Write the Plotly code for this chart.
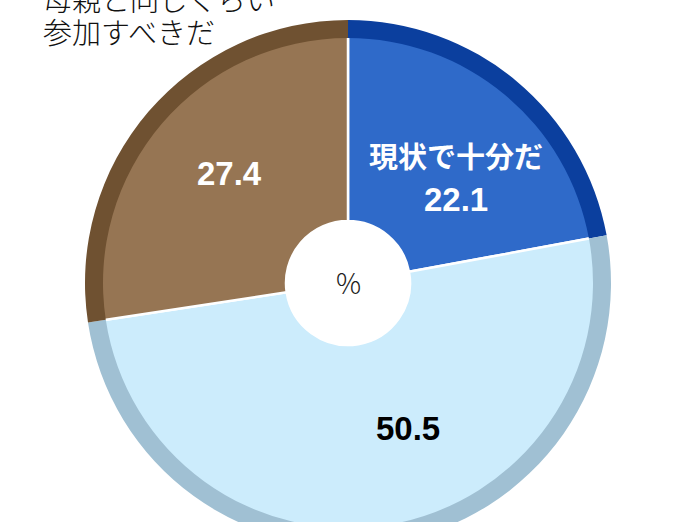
import plotly.graph_objects as go

# ---- data ----
categories = ["現状で十分だ", "父親も母親と同じくらい参加すべきだ", "その他・答えない"]
values = [22.1, 50.5, 27.4]
inner_colors = ["#2F6AC9", "#CCECFC", "#967553"]
ring_colors = ["#0B3F9E", "#A0C0D3", "#6F5131"]
title_lines = ["母親と同じくらい", "参加すべきだ"]
unit_label = "%"

W, H = 696, 566  # page taller than the 522 window so the pie runs off the bottom like the reference
CX, CY = 348, 283
R_OUT, R_IN, R_HOLE = 263, 245, 62

def px_to_paper(x, y):
    return x / W, 1 - y / H

dom_x = [(CX - R_OUT) / W, (CX + R_OUT) / W]
dom_y = [1 - (CY + R_OUT) / H, 1 - (CY - R_OUT) / H]

fig = go.Figure()
# inner (light) slices with white separators
fig.add_trace(go.Pie(
    labels=categories, values=values, sort=False, direction="clockwise", rotation=0,
    hole=R_HOLE / R_OUT, marker=dict(colors=inner_colors, line=dict(color="white", width=2.5)),
    textinfo="none", hoverinfo="skip", showlegend=False,
    domain=dict(x=dom_x, y=dom_y),
))
# outer dark ring
fig.add_trace(go.Pie(
    labels=categories, values=values, sort=False, direction="clockwise", rotation=0,
    hole=R_IN / R_OUT, marker=dict(colors=ring_colors, line=dict(color="white", width=0)),
    textinfo="none", hoverinfo="skip", showlegend=False,
    domain=dict(x=dom_x, y=dom_y),
))

anns = []
def add_text(text, x, y, size, color, bold=False, family="Liberation Sans, Arial, sans-serif",
             xanchor="center", weight=None):
    px, py = px_to_paper(x, y)
    font = dict(size=size, color=color, family=family)
    if weight is not None:
        font["weight"] = weight
    anns.append(dict(text=f"<b>{text}</b>" if bold else text, x=px, y=py, xref="paper", yref="paper",
                     showarrow=False, xanchor=xanchor, yanchor="middle", font=font))

cjk = "Noto Sans CJK JP, sans-serif"
add_text(categories[0], 456, 155, 29, "white", bold=True, family=cjk)
add_text(f"{values[0]:.1f}", 456, 199, 33, "white", bold=True)
add_text(f"{values[1]:.1f}", 408, 429, 33, "black", bold=True)
add_text(f"{values[2]:.1f}", 229, 174, 33, "white", bold=True)
add_text(unit_label, 348, 282, 28, "#222222", family=cjk, weight=300)
add_text(title_lines[0], 41, -2, 29, "#111111", family=cjk, xanchor="left", weight=300)
add_text(title_lines[1], 41, 31, 29, "#111111", family=cjk, xanchor="left", weight=300)

fig.update_layout(
    width=W, height=H, margin=dict(l=0, r=0, t=0, b=0),
    paper_bgcolor="white", plot_bgcolor="white",
    annotations=anns,
)

fig.write_html(
    "out.html",
    config={"displayModeBar": False},
    post_script="document.body.style.margin='0';document.body.style.overflow='hidden';document.documentElement.style.overflow='hidden';",
)
